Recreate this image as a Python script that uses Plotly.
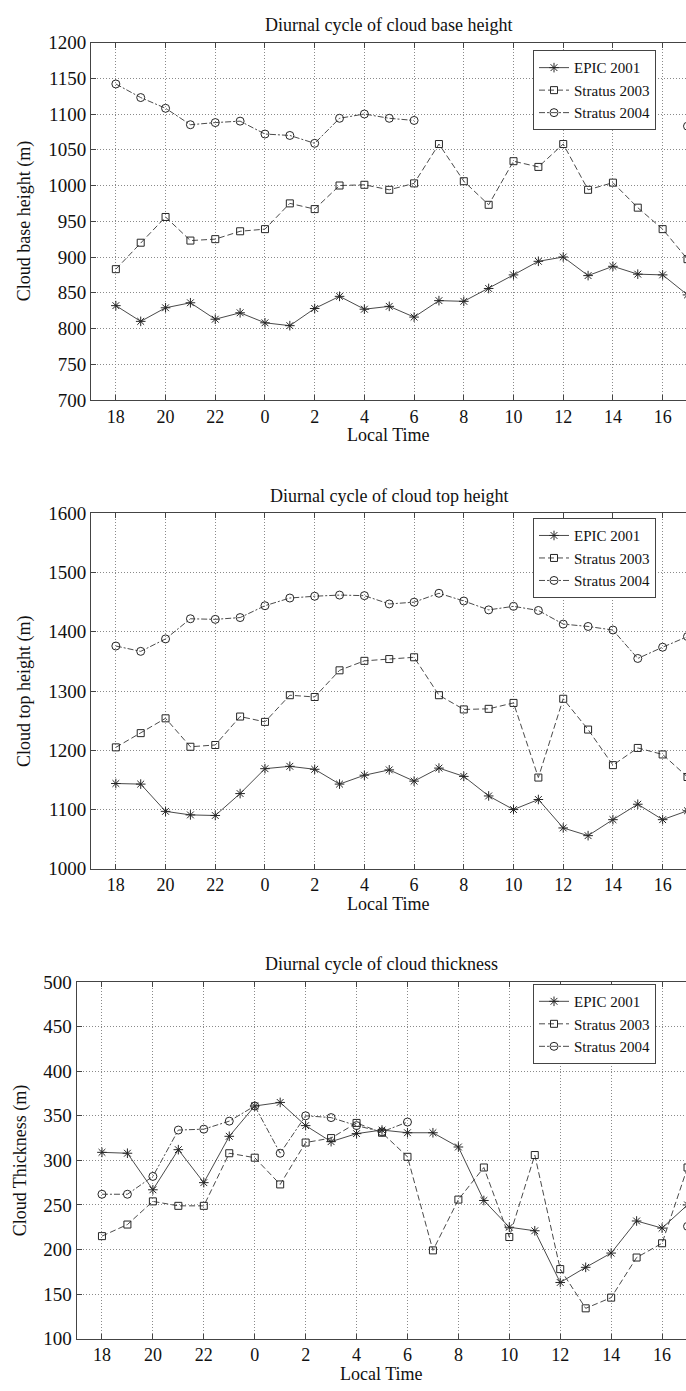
import plotly.graph_objects as go

hours = ["18", "19", "20", "21", "22", "23", "0", "1", "2", "3", "4", "5",
         "6", "7", "8", "9", "10", "11", "12", "13", "14", "15", "16", "17"]
tick_labels = ["18", "20", "22", "0", "2", "4", "6", "8", "10", "12", "14", "16"]

series_names = ["EPIC 2001", "Stratus 2003", "Stratus 2004"]

# Cloud base height (m)
base_epic = [832, 810, 829, 836, 813, 822, 808, 804, 828, 845, 827, 831,
             816, 839, 838, 856, 875, 894, 900, 874, 887, 876, 875, 847]
base_s03 = [883, 920, 956, 923, 925, 936, 939, 975, 967, 1000, 1001, 994,
            1003, 1058, 1006, 973, 1034, 1026, 1058, 994, 1004, 969, 939, 897]
base_s04 = [1142, 1123, 1108, 1085, 1088, 1090, 1072, 1070, 1059, 1094, 1100, 1094,
            1091, None, None, None, None, None, None, None, None, None, None, 1083]

# Cloud top height (m)
top_epic = [1144, 1143, 1097, 1091, 1090, 1127, 1169, 1173, 1168, 1143, 1158, 1167,
            1148, 1170, 1156, 1123, 1100, 1117, 1069, 1056, 1083, 1109, 1083, 1098]
top_s03 = [1205, 1229, 1254, 1206, 1209, 1257, 1248, 1293, 1290, 1335, 1351, 1354,
           1357, 1293, 1269, 1270, 1280, 1154, 1287, 1235, 1175, 1204, 1193, 1155]
top_s04 = [1376, 1367, 1388, 1422, 1421, 1424, 1444, 1457, 1460, 1462, 1461, 1447,
           1450, 1465, 1452, 1437, 1443, 1436, 1413, 1409, 1403, 1355, 1374, 1392]

# Cloud thickness (m)
thk_epic = [309, 308, 267, 312, 275, 327, 361, 365, 339, 321, 330, 334,
            331, 331, 315, 255, 225, 221, 163, 180, 196, 232, 224, 250]
thk_s03 = [215, 228, 254, 249, 249, 308, 303, 273, 320, 325, 342, 331,
           304, 199, 256, 292, 214, 306, 178, 134, 146, 191, 207, 292]
thk_s04 = [262, 262, 282, 334, 335, 344, 361, 308, 350, 348, 339, 332,
           343, None, None, None, None, None, None, None, None, None, None, 226]

panels = [
    dict(title="Diurnal cycle of cloud base height", ytitle="Cloud base height (m)",
         data=[base_epic, base_s03, base_s04], yrange=[700, 1200], dtick=50),
    dict(title="Diurnal cycle of cloud top height", ytitle="Cloud top height (m)",
         data=[top_epic, top_s03, top_s04], yrange=[1000, 1600], dtick=100),
    dict(title="Diurnal cycle of cloud thickness", ytitle="Cloud Thickness (m)",
         data=[thk_epic, thk_s03, thk_s04], yrange=[100, 500], dtick=50),
]

W, H = 686, 1391
# pixel geometry of each plot area: (left, top, bottom)
geom = [(91, 33, 396), (91, 511, 872), (76.5, 987, 1349)]
legend_px = [(533, 41), (533, 516), (533, 989)]
ytitle_x = [24, 24, 20]

FONT = "Liberation Serif, Times New Roman, serif"
LINE_C = "#4a4a4a"
MARK_C = "#262626"
TXT_C = "#111111"
styles = [
    dict(dash="solid", symbol="asterisk-open", size=8),
    dict(dash="6px,3px", symbol="square-open", size=7),
    dict(dash="6px,2px,2px,2px", symbol="circle-open", size=8),
]

x_idx = list(range(len(hours)))
tick_idx = [hours.index(t) for t in tick_labels]

fig = go.Figure()
annotations = []
for p, panel in enumerate(panels):
    n = "" if p == 0 else str(p + 1)
    leg = "legend" if p == 0 else f"legend{p + 1}"
    for s, name in enumerate(series_names):
        st = styles[s]
        fig.add_trace(go.Scatter(
            x=x_idx, y=panel["data"][s], name=name, mode="lines+markers",
            xaxis="x" + n, yaxis="y" + n, legend=leg, connectgaps=False,
            line=dict(color=LINE_C, width=1, dash=st["dash"]),
            marker=dict(symbol=st["symbol"], size=st["size"], color=MARK_C,
                        line=dict(color=MARK_C, width=1)),
        ))
    left, top, bottom = geom[p]
    xd = [left / W, 1.0]
    yd = [1 - bottom / H, 1 - top / H]
    fig.update_layout(**{
        "xaxis" + n: dict(
            domain=xd, range=[-1, 22.94], anchor="y" + n,
            tickmode="array", tickvals=tick_idx, ticktext=tick_labels,
            ticks="inside", ticklen=5, tickcolor="#444", mirror="ticks",
            showline=True, linecolor="#444", linewidth=1,
            showgrid=True, gridcolor="#8a8a8a", griddash="1px,2px", gridwidth=1,
            zeroline=False,
            tickfont=dict(family=FONT, size=18, color=TXT_C),
        ),
        "yaxis" + n: dict(
            domain=yd, range=panel["yrange"], anchor="x" + n,
            dtick=panel["dtick"], tick0=panel["yrange"][0],
            ticks="inside", ticklen=5, tickcolor="#444",
            showline=True, linecolor="#444", linewidth=1,
            showgrid=True, gridcolor="#8a8a8a", griddash="1px,2px", gridwidth=1,
            zeroline=False,
            tickfont=dict(family=FONT, size=19, color=TXT_C),
        ),
        leg: dict(
            x=legend_px[p][0] / W, y=1 - legend_px[p][1] / H,
            xanchor="left", yanchor="top", xref="paper", yref="paper",
            bgcolor="white", bordercolor="#444", borderwidth=1,
            font=dict(family=FONT, size=15, color=TXT_C),
            tracegroupgap=0, itemwidth=30,
        ),
    })
    # subplot title
    annotations.append(dict(
        text=panel["title"], x=(left + W) / 2 / W, y=1 - (top - 18) / H,
        xref="paper", yref="paper", showarrow=False, xanchor="center", yanchor="middle",
        font=dict(family=FONT, size=18, color=TXT_C),
    ))
    # x axis title
    annotations.append(dict(
        text="Local Time", x=(left + W) / 2 / W, y=1 - (bottom + 36) / H,
        xref="paper", yref="paper", showarrow=False, xanchor="center", yanchor="middle",
        font=dict(family=FONT, size=18, color=TXT_C),
    ))
    # y axis title
    annotations.append(dict(
        text=panel["ytitle"], x=ytitle_x[p] / W, y=1 - (top + bottom) / 2 / H,
        xref="paper", yref="paper", showarrow=False, xanchor="center", yanchor="middle",
        textangle=-90, font=dict(family=FONT, size=18, color=TXT_C),
    ))

fig.update_layout(
    width=W, height=H, margin=dict(l=0, r=0, t=0, b=0),
    paper_bgcolor="white", plot_bgcolor="white",
    annotations=annotations, showlegend=True,
)

fig.write_html("out.html")
